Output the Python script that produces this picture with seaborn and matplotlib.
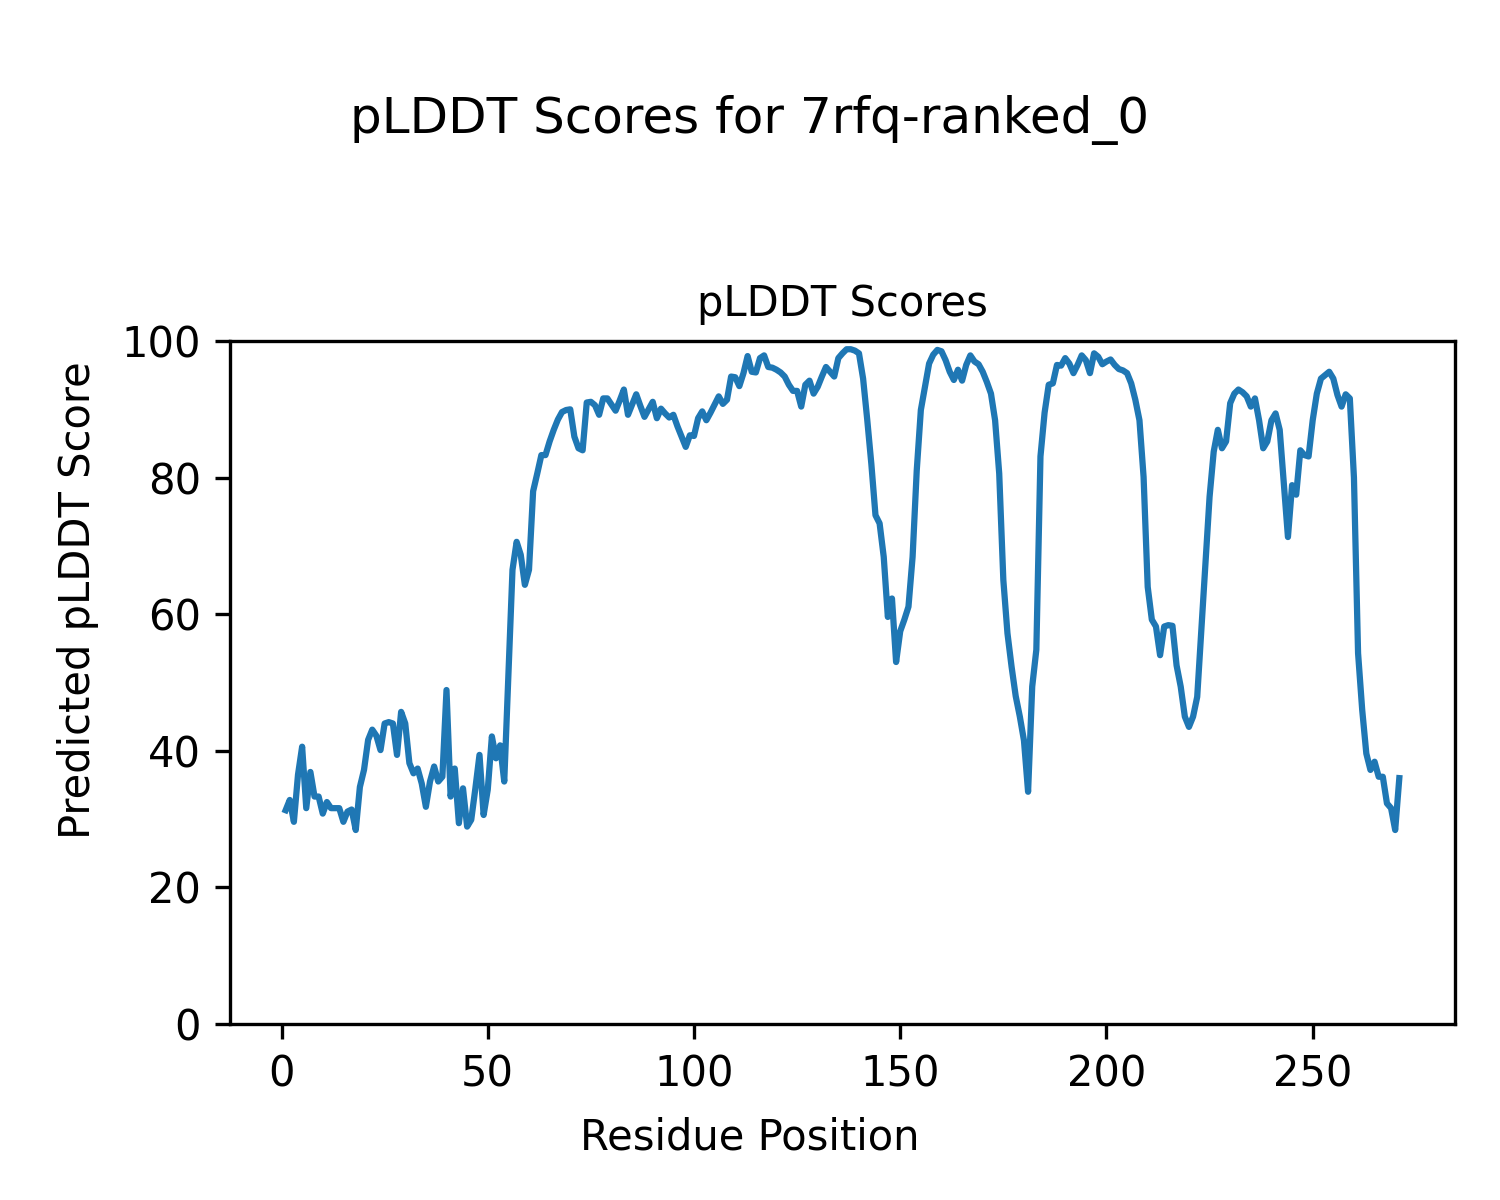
import numpy as np
import pandas as pd
import matplotlib
matplotlib.use("Agg")
import matplotlib.pyplot as plt
import seaborn as sns

MODEL_NAME = "7rfq-ranked_0"

# pLDDT per residue (residues 1..271)
plddt = [
    31.3, 32.8, 29.6, 36.5, 40.6, 31.6, 36.9, 33.3, 33.3, 30.8,
    32.5, 31.6, 31.6, 31.6, 29.6, 31.1, 31.4, 28.4, 34.7, 37.2,
    41.6, 43.1, 42.2, 40.1, 44.0, 44.2, 44.0, 39.4, 45.7, 44.0,
    38.2, 36.7, 37.4, 35.2, 31.8, 35.5, 37.7, 35.5, 36.2, 48.9,
    33.3, 37.4, 29.4, 34.5, 28.9, 29.9, 34.5, 39.4, 30.6, 34.3,
    42.1, 38.9, 40.8, 35.5, 51.0, 66.5, 70.6, 68.7, 64.3, 66.5,
    78.0, 80.6, 83.3, 83.3, 85.3, 87.0, 88.5, 89.6, 89.9, 90.0,
    86.0, 84.3, 84.0, 91.0, 91.1, 90.6, 89.2, 91.6, 91.6, 90.7,
    89.8, 91.3, 92.9, 89.2, 90.7, 92.2, 90.5, 88.9, 90.0, 91.1,
    88.7, 90.1, 89.4, 88.8, 89.2, 87.5, 86.0, 84.5, 86.2, 86.1,
    88.7, 89.7, 88.4, 89.5, 90.7, 91.9, 90.8, 91.4, 94.8, 94.7,
    93.4, 95.3, 97.8, 95.5, 95.4, 97.5, 97.9, 96.2, 96.1, 95.8,
    95.4, 94.8, 93.6, 92.7, 92.7, 90.4, 93.6, 94.2, 92.3, 93.3,
    94.8, 96.2, 95.5, 94.8, 97.5, 98.2, 98.8, 98.8, 98.6, 98.2,
    94.5, 88.5, 82.0, 74.5, 73.3, 68.4, 59.6, 62.3, 53.0, 57.5,
    59.2, 61.1, 68.4, 81.0, 89.9, 93.3, 96.7, 98.0, 98.7, 98.5,
    97.2, 95.5, 94.3, 95.8, 94.2, 96.5, 97.9, 97.0, 96.6, 95.5,
    94.0, 92.3, 88.4, 80.6, 65.0, 57.2, 52.3, 48.0, 45.0, 41.5,
    34.0, 49.4, 54.8, 83.1, 89.5, 93.6, 93.8, 96.5, 96.4, 97.5,
    96.7, 95.3, 96.5, 97.9, 97.2, 95.3, 98.2, 97.7, 96.6, 97.0,
    97.3, 96.5, 95.9, 95.7, 95.3, 93.8, 91.4, 88.4, 80.1, 64.0,
    59.2, 58.2, 54.0, 58.2, 58.4, 58.3, 52.5, 49.4, 45.0, 43.5,
    45.0, 47.9, 57.7, 67.5, 77.2, 83.8, 87.0, 84.3, 85.3, 90.9,
    92.3, 92.9, 92.5, 91.9, 90.4, 91.6, 88.4, 84.3, 85.3, 88.4,
    89.4, 87.0, 79.2, 71.3, 78.9, 77.5, 84.0, 83.3, 83.1, 88.4,
    92.3, 94.5, 95.0, 95.5, 94.5, 92.1, 90.4, 92.2, 91.6, 80.0,
    54.3, 46.0, 39.6, 37.2, 38.4, 36.2, 36.2, 32.3, 31.6, 28.4,
    36.0,
]
residues = list(range(1, len(plddt) + 1))

df = pd.DataFrame({"residue": residues, "plddt": plddt})

fig, ax = plt.subplots(figsize=(5, 4), dpi=300)
fig.subplots_adjust(left=0.1533, right=0.97, bottom=0.1467, top=0.7158)

sns.lineplot(data=df, x="residue", y="plddt", ax=ax, color="#1f77b4", linewidth=1.5)

ax.set_ylim(0, 100)
ax.set_title("pLDDT Scores", fontsize=10)
ax.set_xlabel("")
ax.set_ylabel("")
fig.supxlabel("Residue Position", fontsize=10, y=0.052, va="center")
fig.supylabel("Predicted pLDDT Score", fontsize=10, x=0.052, ha="center")
fig.suptitle(f"pLDDT Scores for {MODEL_NAME}", fontsize=12, y=0.9, va="center")

fig.savefig("out.png", dpi=300)
plt.close(fig)
